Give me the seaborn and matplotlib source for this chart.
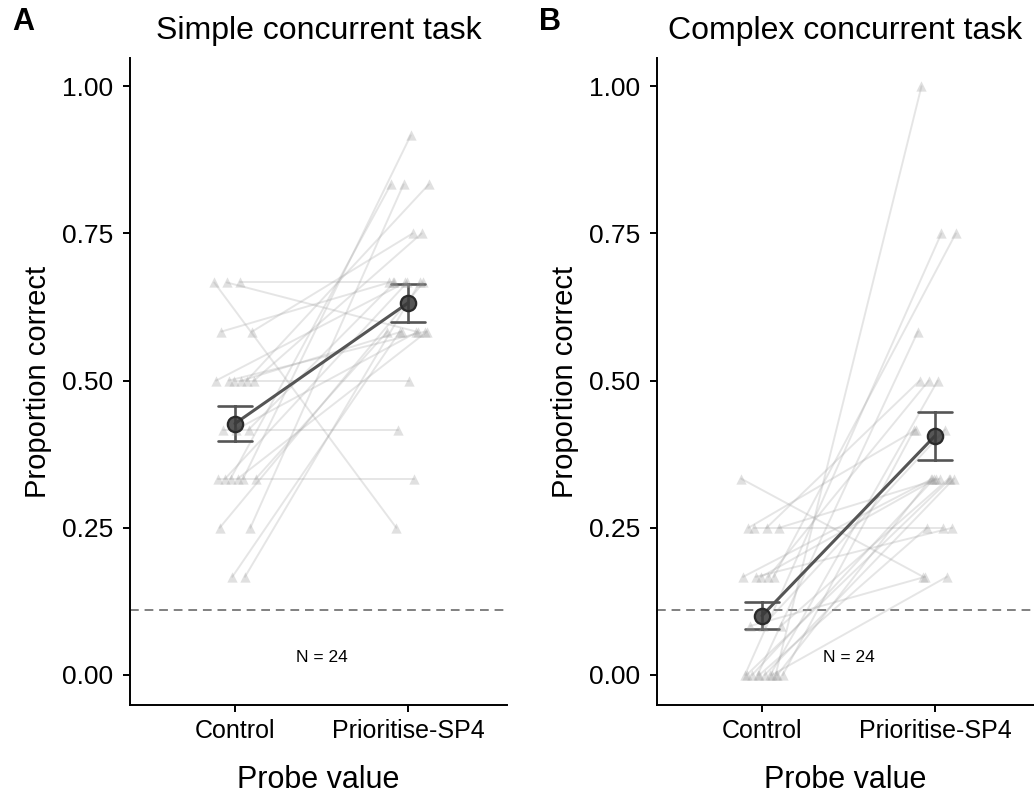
import numpy as np
import pandas as pd
import matplotlib
matplotlib.use("Agg")
import matplotlib.pyplot as plt
import seaborn as sns

sns.set_theme(style="ticks")
plt.rcParams['font.family'] = ['Liberation Sans', 'DejaVu Sans']

conditions = ["Control", "Prioritise-SP4"]
titles = ["Simple concurrent task", "Complex concurrent task"]
panel_letters = ["A", "B"]
chance_level = 1 / 9
n_label = "N = 24"

# Proportion correct per participant (values in twelfths)
simple_control = np.array([8, 8, 8, 7, 7, 6, 6, 6, 6, 6, 6, 5, 5, 5, 4, 4, 4, 4, 4, 4, 3, 3, 2, 2]) / 12
simple_prioritise = np.array([3, 7, 8, 9, 8, 6, 10, 8, 7, 7, 9, 5, 7, 8, 4, 10, 11, 7, 8, 7, 10, 8, 7, 8]) / 12
complex_control = np.array([4, 3, 3, 3, 3, 2, 2, 2, 2, 2, 1, 1, 1, 0, 0, 0, 0, 0, 0, 0, 0, 0, 0, 0]) / 12
complex_prioritise = np.array([2, 3, 6, 4, 5, 4, 9, 4, 3, 6, 4, 2, 5, 12, 9, 7, 6, 5, 4, 4, 4, 4, 3, 2]) / 12

panels = [(simple_control, simple_prioritise), (complex_control, complex_prioritise)]


def make_long(ctrl, prio):
    n = len(ctrl)
    idx = np.arange(n)
    jit_c = (((idx * 7) % n) / (n - 1) - 0.5) * 0.24
    jit_p = (((idx * 11 + 5) % n) / (n - 1) - 0.5) * 0.24
    rows = []
    for i in range(n):
        rows.append(dict(pid=i, cond=conditions[0], val=ctrl[i], xj=0 + jit_c[i]))
        rows.append(dict(pid=i, cond=conditions[1], val=prio[i], xj=1 + jit_p[i]))
    return pd.DataFrame(rows)


W, H = 1034, 796
fig = plt.figure(figsize=(W / 100, H / 100), dpi=100)
ax_left_px = [130, 657]
ax_w_px = 377
ax_top_px, ax_bot_px = 58, 705

for k, (ctrl, prio) in enumerate(panels):
    d = make_long(ctrl, prio)
    ax = fig.add_axes([ax_left_px[k] / W, (H - ax_bot_px) / H, ax_w_px / W, (ax_bot_px - ax_top_px) / H])

    ax.axhline(chance_level, color="#808080", lw=1.4, ls=(0, (4.5, 3)), zorder=1)

    sns.lineplot(data=d, x="xj", y="val", units="pid", estimator=None, sort=False,
                 color="#9a9a9a", alpha=0.25, lw=1.4, ax=ax, legend=False, zorder=2)
    sns.scatterplot(data=d, x="xj", y="val", marker="^", s=55, color="#9a9a9a",
                    alpha=0.3, linewidth=0, ax=ax, legend=False, zorder=3)
    sns.pointplot(data=d, x="cond", y="val", order=conditions, errorbar="se",
                  capsize=0.2, color="#555555", markers="o", markersize=11,
                  linewidth=2.2, err_kws={"linewidth": 1.9}, ax=ax)
    for ln in ax.lines:
        if ln.get_marker() == "o":
            ln.set_markerfacecolor((0.22, 0.22, 0.22, 0.85))
            ln.set_markeredgecolor("#2a2a2a")
            ln.set_zorder(6)

    ax.text(0.5, 0.03, n_label, ha="center", va="center", fontsize=12.5, color="black")

    ax.set_xlim(-0.607, 1.572)
    ax.set_ylim(-0.051, 1.048)
    ax.set_xticks([0, 1])
    ax.set_xticklabels(conditions)
    ax.set_yticks([0, 0.25, 0.5, 0.75, 1.0])
    ax.set_yticklabels(["0.00", "0.25", "0.50", "0.75", "1.00"])
    ax.tick_params(axis="y", labelsize=19, length=5, width=1.4, pad=7, colors="black")
    ax.tick_params(axis="x", labelsize=18, length=5, width=1.4, pad=5, colors="black")
    for s in ["top", "right"]:
        ax.spines[s].set_visible(False)
    for s in ["left", "bottom"]:
        ax.spines[s].set_linewidth(1.4)
        ax.spines[s].set_color("black")

    ax.set_xlabel("Probe value", fontsize=22, color="black")
    ax.set_ylabel("Proportion correct", fontsize=21, color="black")
    ax.xaxis.set_label_coords(0.5, -0.093)
    ax.yaxis.set_label_coords(-0.206, 0.5)
    ax.set_title(titles[k], fontsize=23, pad=14, color="black")

    fig.text((ax_left_px[k] - 118) / W, (H - 22) / H, panel_letters[k], fontsize=22,
             fontweight="bold", ha="left", va="center", color="black")

fig.savefig("out.png", dpi=100)
